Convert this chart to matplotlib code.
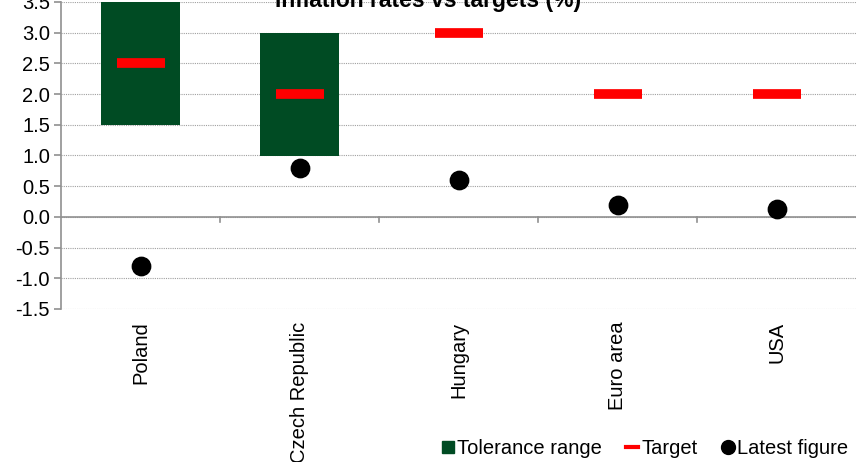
import numpy as np
import matplotlib.pyplot as plt
from matplotlib.lines import Line2D

plt.rcParams['font.family'] = ['Liberation Sans', 'DejaVu Sans']

countries = ['Poland', 'Czech Republic', 'Hungary', 'Euro area', 'USA']
range_low = [1.5, 1.0, np.nan, np.nan, np.nan]
range_high = [3.5, 3.0, np.nan, np.nan, np.nan]
target = [2.5, 2.0, 3.0, 2.0, 2.0]
latest = [-0.8, 0.8, 0.6, 0.2, 0.13]

green = '#004b23'
fs = 14.5

fig = plt.figure(figsize=(8.56, 4.62), dpi=100)
ax = fig.add_axes([61 / 856, 1 - 309 / 462, 1 - 61 / 856, 307 / 462])

x = np.arange(len(countries))
lo = np.array(range_low)
hi = np.array(range_high)
ax.bar(x, hi - lo, bottom=lo, width=0.5, color=green, zorder=2)
ax.scatter(x, target, marker='_', s=1150, linewidths=7, color='red', zorder=3)
ax.scatter(x, latest, marker='o', s=175, color='black', zorder=4)

ax.set_xlim(-0.5, len(countries) - 0.5)
ax.set_ylim(-1.5, 3.5)
ax.set_yticks(np.arange(-1.5, 3.51, 0.5))
ax.set_yticklabels([f'{v:.1f}' for v in np.arange(-1.5, 3.51, 0.5)], fontsize=fs)
ax.yaxis.grid(True, linestyle=(0, (1, 1)), color='#a0a0a0', linewidth=0.8, zorder=0)
ax.set_axisbelow(True)

for s in ['top', 'right', 'bottom']:
    ax.spines[s].set_visible(False)
ax.spines['left'].set_color('#909090')
ax.spines['left'].set_linewidth(1.2)
ax.tick_params(axis='y', color='#909090', length=5, width=1.2, pad=3)
ax.axhline(0, color='#909090', linewidth=1.2, zorder=1)

# category boundary ticks on the zero line
for b in np.arange(0.5, len(countries) - 0.5, 1):
    ax.plot([b, b], [0, -0.08], color='#909090', linewidth=1.2, clip_on=False)

ax.set_xticks(x)
ax.set_xticklabels(countries, rotation=90, fontsize=fs, va='top')
ax.tick_params(axis='x', length=0, pad=9)

fig.text(0.5, 1 - 7 / 462, 'Inflation rates vs targets (%)', ha='center',
         va='baseline', fontsize=16.5, fontweight='bold')

handles = [
    Line2D([], [], marker='s', linestyle='none', color=green, markersize=9),
    Line2D([], [], color='red', linewidth=3),
    Line2D([], [], marker='o', linestyle='none', color='black', markersize=10),
]
fig.legend(handles, ['Tolerance range', 'Target', 'Latest figure'],
           loc='lower right', bbox_to_anchor=(1.012, -0.03), ncol=3, frameon=False,
           fontsize=fs, handlelength=0.6, handletextpad=0.15, columnspacing=1.2)

fig.savefig('out.png', dpi=100)
